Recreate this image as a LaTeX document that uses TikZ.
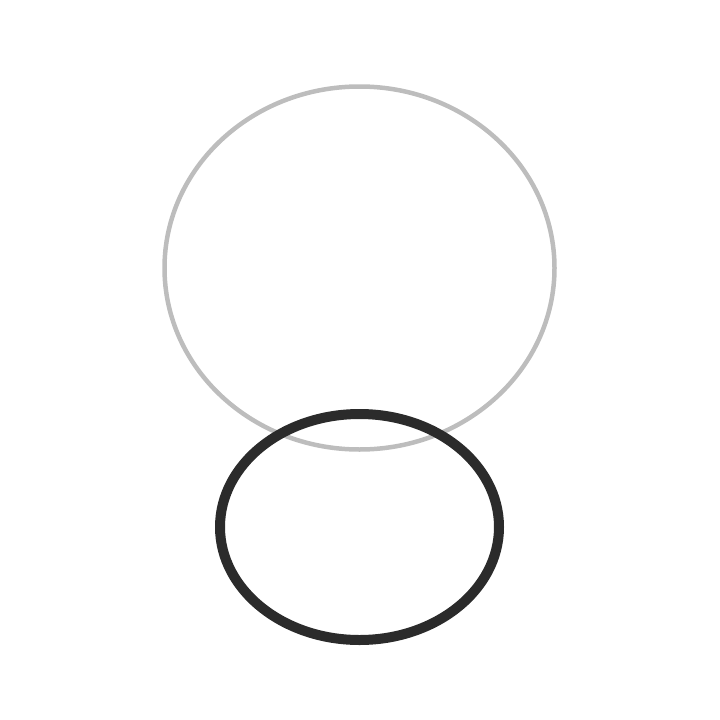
\documentclass[tikz,border=0pt]{standalone}
\definecolor{ringgray}{HTML}{BDBDBD}
\definecolor{ringdark}{HTML}{2B2B2B}
\begin{document}
\begin{tikzpicture}[x=1pt,y=-1pt]
		\useasboundingbox (0,0) rectangle (720,720);
		\draw [ringgray, line width=4.5pt] (359.5,268) ellipse [x radius=195, y radius=181.5];
		\draw [ringdark, line width=10pt] (359.5,527) ellipse [x radius=139.5, y radius=113];
	\end{tikzpicture}
\end{document}
